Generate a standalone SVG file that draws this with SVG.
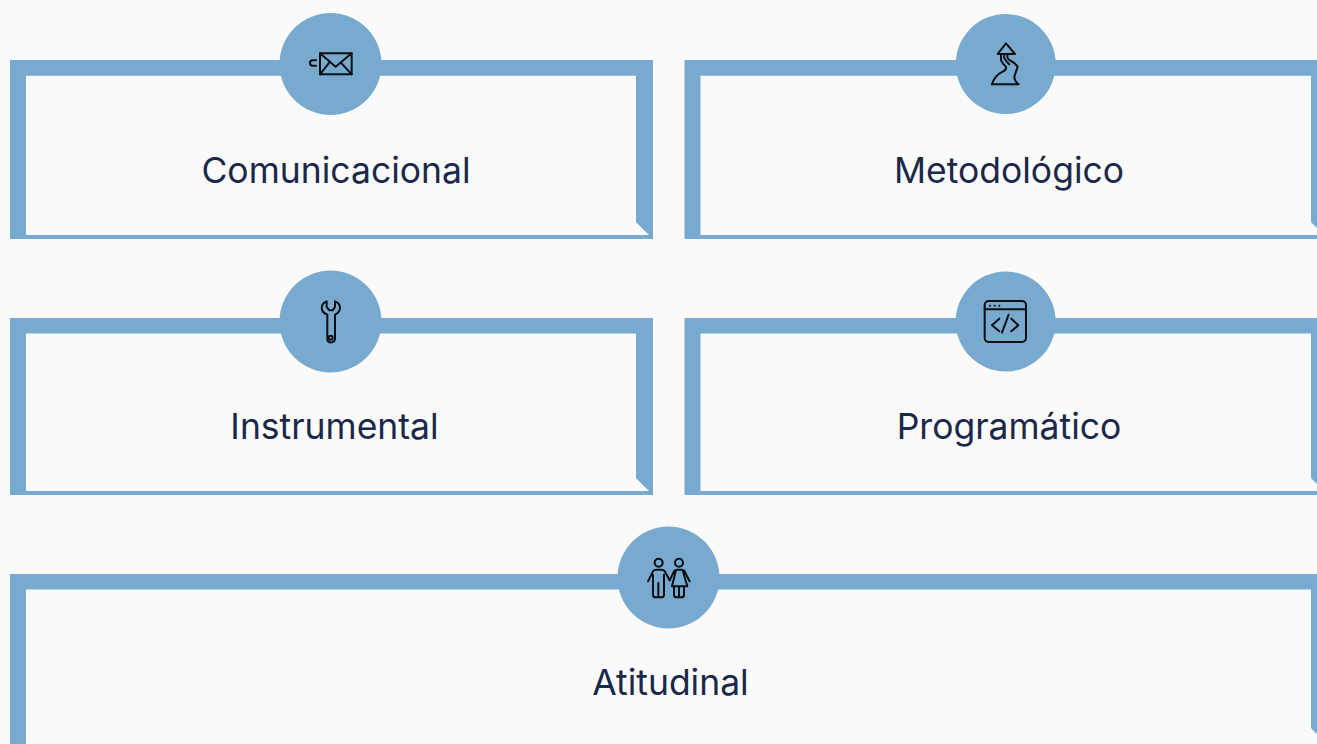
<svg xmlns="http://www.w3.org/2000/svg" width="1317" height="744" viewBox="0 0 1317 744">
<style>
.frame{fill:#78a9cf;fill-rule:evenodd}
.disc{fill:#78a9cf}
.lbl{font-family:Inter,"Liberation Sans",sans-serif;font-size:35.500px;fill:#1a2849;text-anchor:middle}
.ico{fill:none;stroke:#0b0f14;stroke-width:6;stroke-linejoin:round;stroke-linecap:round}
.dot{fill:#0b0f14;stroke:none}
</style>
<rect width="1317" height="744" fill="#fafafa"/>
<g id="frames">
<path class="frame" d="M10 60H653V239H10ZM26 75.800V235H649L636 222V75.800Z"/>
<path class="frame" d="M684.500 60H1317V239H684.500ZM700.500 75.800V235H1324L1311 222V75.800Z"/>
<path class="frame" d="M10 318H653V495H10ZM26 333.500V491H649L636 478V333.500Z"/>
<path class="frame" d="M684.500 318H1317V495H684.500ZM700.500 333.500V491H1324L1311 478V333.500Z"/>
<path class="frame" d="M10 574H1317V744H10ZM26 589.500V744H1317V734L1311 728V589.500Z"/>
</g>
<g id="comunicacional">
<circle class="disc" cx="330.500" cy="64" r="51"/>
<g class="ico" transform="translate(270 5) scale(.3333)">
<rect x="150" y="145" width="95" height="63"/>
<path d="M150 145L197 185L245 145M150 208L180 170M245 208L212 172"/>
<path d="M138 166H128Q120 166 120 174Q120 182 128 182H138"/>
</g>
<text class="lbl" x="336" y="182.500">Comunicacional</text>
</g>
<g id="metodologico">
<circle class="disc" cx="1005.700" cy="64" r="50"/>
<g class="ico" transform="translate(946 5) scale(.3333)">
<path d="M180 115L155 147H207Z"/>
<path d="M165 150V165Q168 175 180 185Q182 195 170 200Q145 212 138 238H218Q205 228 205 215Q210 200 215 185Q205 172 190 165Q182 160 185 150"/>
<path d="M175 150Q170 160 190 178"/>
</g>
<text class="lbl" x="1009" y="182.500">Metodológico</text>
</g>
<g id="instrumental">
<circle class="disc" cx="330.500" cy="321.500" r="51"/>
<g class="ico" transform="translate(270 262) scale(.3333)">
<path d="M170 118C150 125 150 150 172 158V230C170 245 195 245 195 230V158C215 150 215 125 195 118V135L188 145H178L170 135Z"/>
<circle cx="182" cy="227" r="6"/>
</g>
<text class="lbl" x="334.500" y="439">Instrumental</text>
</g>
<g id="programatico">
<circle class="disc" cx="1005.700" cy="321.500" r="50"/>
<g class="ico" transform="translate(946 262) scale(.3333)">
<rect x="116" y="117" width="124" height="123" rx="12"/>
<path d="M116 142H240M160 170L138 190L160 208M196 170L217 190L196 208M188 158L168 212"/>
<circle class="dot" cx="132" cy="131" r="3"/><circle class="dot" cx="146" cy="131" r="3"/><circle class="dot" cx="160" cy="131" r="3"/>
</g>
<text class="lbl" x="1009" y="439">Programático</text>
</g>
<g id="atitudinal">
<circle class="disc" cx="668.500" cy="577.500" r="51"/>
<g class="ico" transform="translate(608 518) scale(.3333)">
<circle cx="152" cy="134" r="12"/>
<circle cx="213" cy="134" r="12"/>
<path d="M120 190L135 160Q138 155 145 155H160Q167 155 170 160L185 187M135 170V230Q135 238 143 238H160Q168 238 168 230V170M151 195V238"/>
<path d="M185 187L198 160Q202 155 208 155H220Q227 155 230 160L245 190M203 160L192 205H238L225 160M198 205V230Q198 238 206 238H220Q228 238 228 230V205M213 205V238"/>
</g>
<text class="lbl" x="670.500" y="695">Atitudinal</text>
</g>
</svg>
